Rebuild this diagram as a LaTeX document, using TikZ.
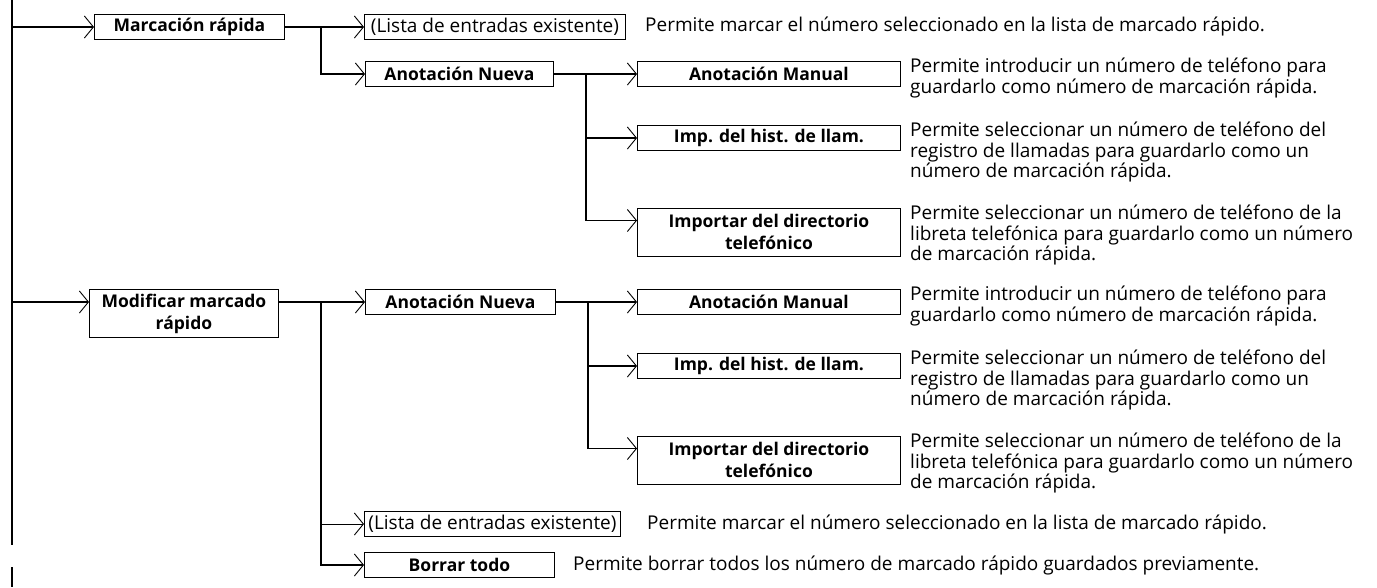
\documentclass[tikz,border=0pt]{standalone}
\usepackage{fontspec}
\setmainfont{Open Sans}
\usetikzlibrary{arrows.meta,positioning,calc}
\tikzset{
  menu/.style={draw,line width=0.9pt,inner sep=0pt,minimum height=25pt,align=center,font=\fontsize{17.5}{22}\selectfont\bfseries},
  plainmenu/.style={menu,font=\fontsize{19}{22}\selectfont},
  twoline/.style={menu,minimum height=48pt,anchor=north west},
  desc/.style={inner sep=0pt,align=left,anchor=north west,font=\fontsize{19}{20.5}\selectfont},
  link/.style={line width=1.8pt,-{Straight Barb[length=9pt,width=22pt,line width=0.9pt]}},
  thinlink/.style={link,line width=0.9pt},
  trunk/.style={line width=2pt}
}
\begin{document}
\begin{tikzpicture}[x=1pt,y=-1pt]
\useasboundingbox (0,0) rectangle (1377,587);
% left trunk
\coordinate (top) at (12,0);
\coordinate (t1) at (12,27);
\coordinate (t2) at (12,302);
\coordinate (tend) at (12,545);
\coordinate (tail0) at (12,567);
\coordinate (tail1) at (12,587);
\draw[trunk] (top) -- (tend);
\draw[trunk] (tail0) -- (tail1);

% Marcacion rapida
\node[menu,minimum width=190pt,anchor=west] (mr) at (94,27) {Marcación rápida};
\node[plainmenu,minimum width=261pt,anchor=west] (lista1) at (364,27) {(Lista de entradas existente)};
\node[menu,minimum width=188pt,anchor=west] (an1) at (365,74) {Anotación Nueva};
\node[menu,minimum width=263pt,anchor=west] (am1) at (637,74) {Anotación Manual};
\node[menu,minimum width=263pt,anchor=west] (imp1) at (637,138) {Imp. del hist. de llam.};
\node[twoline,minimum width=263pt] (dir1) at (637,207.5) {Importar del directorio\\telefónico};

\node[desc,anchor=west] (dlista1) at (645,27) {Permite marcar el número seleccionado en la lista de marcado rápido.};
\node[desc] (dam1) at (910,58) {Permite introducir un número de teléfono para\\guardarlo como número de marcación rápida.};
\node[desc] (dimp1) at (910,122) {Permite seleccionar un número de teléfono del\\registro de llamadas para guardarlo como un\\número de marcación rápida.};
\node[desc] (ddir1) at (910,205) {Permite seleccionar un número de teléfono de la\\libreta telefónica para guardarlo como un número\\de marcación rápida.};

% Modificar marcado rapido
\node[twoline,minimum width=189pt] (mod) at (89,289) {Modificar marcado\\rápido};
\node[menu,minimum width=190pt,anchor=west] (an2) at (365,302) {Anotación Nueva};
\node[menu,minimum width=263pt,anchor=west] (am2) at (637,302) {Anotación Manual};
\node[menu,minimum width=263pt,anchor=west] (imp2) at (637,366) {Imp. del hist. de llam.};
\node[twoline,minimum width=263pt] (dir2) at (637,435.5) {Importar del directorio\\telefónico};
\node[plainmenu,minimum width=256pt,anchor=west] (lista2) at (364,524) {(Lista de entradas existente)};
\node[menu,minimum width=190pt,anchor=west] (borrar) at (364,565) {Borrar todo};

\node[desc] (dam2) at (910,286) {Permite introducir un número de teléfono para\\guardarlo como número de marcación rápida.};
\node[desc] (dimp2) at (910,350) {Permite seleccionar un número de teléfono del\\registro de llamadas para guardarlo como un\\número de marcación rápida.};
\node[desc] (ddir2) at (910,433) {Permite seleccionar un número de teléfono de la\\libreta telefónica para guardarlo como un número\\de marcación rápida.};
\node[desc,anchor=west] (dlista2) at (647,524) {Permite marcar el número seleccionado en la lista de marcado rápido.};
\node[desc,anchor=west] (dborrar) at (573,565) {Permite borrar todos los número de marcado rápido guardados previamente.};

% connectors
\draw[link] (t1) -- (mr.west);
\draw[link] (mr.east) -- (lista1.west);
\draw[link] ($(mr.east)+(36,0)$) |- (an1.west);
\draw[link] (an1.east) -- (am1.west);
\draw[link] ($(an1.east)+(32,0)$) |- (imp1.west);
\draw[link] ($(an1.east)+(32,0)$) |- ($(dir1.north west)+(0,13)$);

\draw[link] (t2) -- ($(mod.north west)+(0,13)$);
\draw[link] ($(mod.north east)+(0,13)$) -- (an2.west);
\draw[link] (an2.east) -- (am2.west);
\draw[link] ($(an2.east)+(32,0)$) |- (imp2.west);
\draw[link] ($(an2.east)+(32,0)$) |- ($(dir2.north west)+(0,13)$);
\draw[thinlink] ($(mod.north east)+(42,13)$) |- (lista2.west);
\draw[link] ($(mod.north east)+(42,13)$) |- (borrar.west);
\end{tikzpicture}
\end{document}
